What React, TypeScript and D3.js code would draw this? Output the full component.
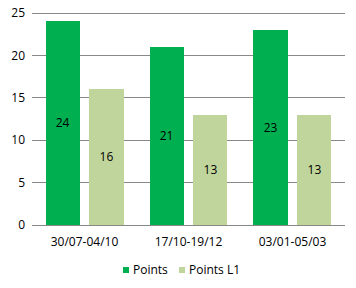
import React from "react";
import * as d3 from "d3";

const categories = ["30/07-04/10", "17/10-19/12", "03/01-05/03"];
const seriesNames = ["Points", "Points L1"];
const points = [24, 21, 23];
const pointsL1 = [16, 13, 13];
const yTicks = [0, 5, 10, 15, 20, 25];
const colors = ["#00B050", "#C0D59B"];

const W = 356;
const H = 288;
const left = 32;
const right = 345;
const top = 13;
const bottom = 225;
const FONT = "'Open Sans', sans-serif";
const FS = 12;

export default function App() {
  const x0 = d3.scaleBand<string>().domain(categories).range([left, right]).paddingInner(0.25).paddingOuter(0.13);
  const x1 = d3.scaleBand<string>().domain(seriesNames).range([0, x0.bandwidth()]).paddingInner(0.22);
  const y = d3.scaleLinear().domain([0, 25]).range([bottom, top]);
  const data = [points, pointsL1];

  return (
    <svg width={W} height={H} style={{ position: "absolute", left: 0, top: 0, background: "#fff" }}>
      <rect x={0} y={0} width={W} height={H} fill="#fff" />
      {yTicks.map((t) => (
        <g key={t}>
          <line x1={left} x2={right} y1={y(t)} y2={y(t)} stroke="#888" strokeWidth={1} shapeRendering="crispEdges" />
          <text x={25} y={y(t)} dy="0.35em" textAnchor="end" fontFamily={FONT} fontSize={FS} fill="#000">
            {t}
          </text>
        </g>
      ))}
      {seriesNames.map((s, si) =>
        categories.map((c, ci) => {
          const v = data[si][ci];
          const bx = (x0(c) ?? 0) + (x1(s) ?? 0);
          const bw = x1.bandwidth();
          return (
            <g key={s + c}>
              <rect x={bx} y={y(v)} width={bw} height={y(0) - y(v)} fill={colors[si]} shapeRendering="crispEdges" />
              <text x={bx + bw / 2} y={(y(v) + y(0)) / 2} dy="0.35em" textAnchor="middle" fontFamily={FONT} fontSize={FS} fill="#000">
                {v}
              </text>
            </g>
          );
        })
      )}
      {categories.map((c) => (
        <text key={c} x={(x0(c) ?? 0) + x0.bandwidth() / 2} y={242} dy="0.35em" textAnchor="middle" fontFamily={FONT} fontSize={FS} fill="#000">
          {c}
        </text>
      ))}
      <g>
        <rect x={123} y={267} width={6} height={6} fill={colors[0]} />
        <text x={133} y={270} dy="0.35em" fontFamily={FONT} fontSize={FS} fill="#000">
          {seriesNames[0]}
        </text>
        <rect x={179} y={267} width={6} height={6} fill={colors[1]} />
        <text x={189} y={270} dy="0.35em" fontFamily={FONT} fontSize={FS} fill="#000">
          {seriesNames[1]}
        </text>
      </g>
    </svg>
  );
}
